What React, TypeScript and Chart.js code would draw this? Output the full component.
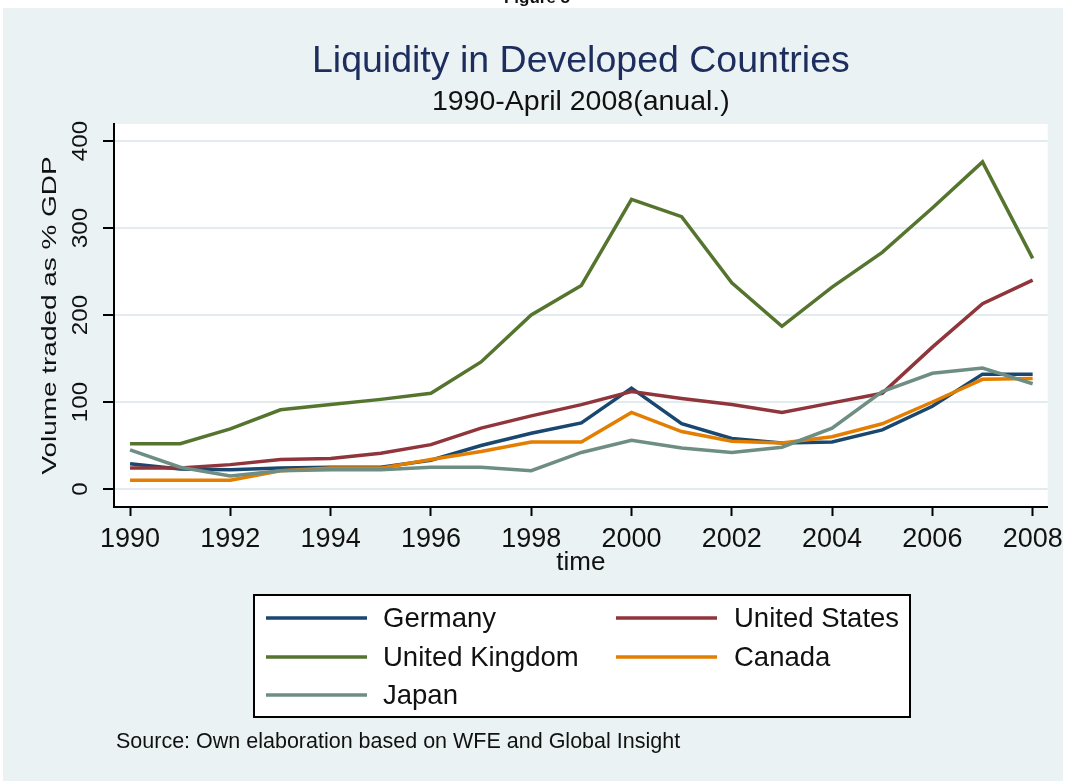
import React, { useEffect, useRef } from 'react';
import { Chart, registerables } from 'chart.js';

Chart.register(...registerables);

const years = [1990, 1991, 1992, 1993, 1994, 1995, 1996, 1997, 1998, 1999, 2000, 2001, 2002, 2003, 2004, 2005, 2006, 2007, 2008];
const germany = [29, 23, 22, 24, 25, 25, 33, 50, 64, 76, 116, 75, 58, 53, 54, 68, 95, 132, 132];
const unitedStates = [24, 24, 28, 34, 35, 41, 51, 70, 84, 97, 112, 104, 97, 88, 99, 110, 163, 213, 240];
const unitedKingdom = [52, 52, 69, 91, 97, 103, 110, 146, 200, 234, 333, 313, 237, 187, 232, 272, 323, 376, 265];
const canada = [10, 10, 10, 21, 24, 24, 34, 43, 54, 54, 88, 66, 55, 53, 60, 75, 100, 126, 127];
const japan = [45, 25, 15, 21, 22, 22, 25, 25, 21, 42, 56, 47, 42, 48, 70, 112, 133, 139, 121];

const seriesNames = ['Germany', 'United States', 'United Kingdom', 'Canada', 'Japan'];
const seriesValues = [germany, unitedStates, unitedKingdom, canada, japan];
const seriesColors = ['#1a476f', '#90353b', '#55752f', '#e37e00', '#6e8e84'];

const xTickLabels = ['1990', '1992', '1994', '1996', '1998', '2000', '2002', '2004', '2006', '2008'];
const yTickLabels = ['0', '100', '200', '300', '400'];

const figureLabel = 'Figure 5';
const titleText = 'Liquidity in Developed Countries';
const subtitleText = '1990-April 2008(anual.)';
const yTitleText = 'Volume traded as % GDP';
const xTitleText = 'time';
const sourceText = 'Source: Own elaboration based on WFE and Global Insight';

const FONT = '"Liberation Sans", Arial, Helvetica, sans-serif';
const BG = '#eaf2f3';
const GRID = '#e2ecee';
const TEXT = '#111111';

const decorPlugin = {
  id: 'stataDecor',
  beforeDraw(chart: any) {
    const ctx = chart.ctx;
    const ca = chart.chartArea;
    ctx.save();
    ctx.fillStyle = '#ffffff';
    ctx.fillRect(0, 0, chart.width, chart.height);
    ctx.fillStyle = BG;
    ctx.fillRect(3, 8, 1060, 773);
    ctx.fillStyle = '#ffffff';
    ctx.fillRect(ca.left, ca.top, ca.right - ca.left, ca.bottom - ca.top);
    ctx.fillStyle = TEXT;
    ctx.font = `bold 17px ${FONT}`;
    ctx.textAlign = 'center';
    ctx.textBaseline = 'alphabetic';
    ctx.fillText(figureLabel, 537, 3);
    ctx.restore();
  },
  afterDraw(chart: any) {
    const ctx = chart.ctx;
    const ca = chart.chartArea;
    const cx = (ca.left + ca.right) / 2;
    ctx.save();
    // titles
    ctx.textAlign = 'center';
    ctx.textBaseline = 'alphabetic';
    ctx.fillStyle = '#1c2d5e';
    ctx.font = `37.5px ${FONT}`;
    ctx.fillText(titleText, cx, 72);
    ctx.fillStyle = TEXT;
    ctx.font = `28.5px ${FONT}`;
    ctx.fillText(subtitleText, cx, 110);

    // y tick labels (vertical)
    const ys = chart.scales.y;
    ys.ticks.forEach((t: any, i: number) => {
      const py = ys.getPixelForValue(t.value);
      ctx.save();
      ctx.translate(87, py);
      ctx.rotate(-Math.PI / 2);
      ctx.scale(1.1, 1);
      ctx.font = `22px ${FONT}`;
      ctx.textAlign = 'center';
      ctx.fillStyle = TEXT;
      ctx.fillText(yTickLabels[i] ?? String(t.value), 0, 0);
      ctx.restore();
    });

    // y title
    ctx.save();
    ctx.translate(56, (ca.top + ca.bottom) / 2);
    ctx.rotate(-Math.PI / 2);
    ctx.scale(1.33, 1);
    ctx.font = `21px ${FONT}`;
    ctx.textAlign = 'center';
    ctx.fillStyle = TEXT;
    ctx.fillText(yTitleText, 0, 0);
    ctx.restore();

    // legend
    const bx = 254, by = 595, bw = 656, bh = 122;
    ctx.fillStyle = '#ffffff';
    ctx.fillRect(bx, by, bw, bh);
    ctx.strokeStyle = '#000000';
    ctx.lineWidth = 2;
    ctx.strokeRect(bx, by, bw, bh);
    const colLine = [266, 616];
    const colText = [383, 734];
    const rowY = [618, 657, 695];
    chart.data.datasets.forEach((ds: any, i: number) => {
      const col = i % 2;
      const row = Math.floor(i / 2);
      const y = rowY[row];
      ctx.strokeStyle = ds.borderColor;
      ctx.lineWidth = 3.5;
      ctx.beginPath();
      ctx.moveTo(colLine[col], y);
      ctx.lineTo(colLine[col] + 101, y);
      ctx.stroke();
      ctx.fillStyle = TEXT;
      ctx.font = `27.5px ${FONT}`;
      ctx.textAlign = 'left';
      ctx.textBaseline = 'middle';
      ctx.fillText(ds.label, colText[col], y + 1);
    });

    // source note
    ctx.textAlign = 'left';
    ctx.textBaseline = 'alphabetic';
    ctx.fillStyle = TEXT;
    ctx.font = `21.5px ${FONT}`;
    ctx.fillText(sourceText, 116, 748);
    ctx.restore();
  },
};

export default function App() {
  const canvasRef = useRef<HTMLCanvasElement | null>(null);

  useEffect(() => {
    if (!canvasRef.current) return;
    const datasets = seriesNames.map((name, i) => ({
      label: name,
      data: years.map((yr, k) => ({ x: yr, y: seriesValues[i][k] })),
      borderColor: seriesColors[i],
      backgroundColor: seriesColors[i],
      borderWidth: 3.5,
      pointRadius: 0,
      tension: 0,
      fill: false,
      order: seriesNames.length - i,
    }));
    const chart = new Chart(canvasRef.current, {
      type: 'line',
      data: { datasets },
      plugins: [decorPlugin],
      options: {
        animation: false,
        responsive: false,
        devicePixelRatio: 1,
        layout: { padding: { left: 103, right: 19, top: 124, bottom: 205 } },
        plugins: {
          legend: { display: false },
          title: { display: false },
          tooltip: { enabled: false },
        },
        scales: {
          x: {
            type: 'linear',
            min: 1989.68,
            max: 2008.3,
            afterFit: (s: any) => { s.height = 69; },
            grid: {
              drawOnChartArea: false,
              drawTicks: true,
              tickLength: 9,
              tickColor: '#000000',
              tickWidth: 2,
            },
            border: { display: true, color: '#000000', width: 2 },
            ticks: {
              stepSize: 2,
              includeBounds: false,
              autoSkip: false,
              maxRotation: 0,
              minRotation: 0,
              padding: 7,
              color: TEXT,
              font: { family: FONT, size: 27, lineHeight: 1.2 },
              callback: (v: any) => {
                const idx = xTickLabels.indexOf(String(v));
                return idx >= 0 ? xTickLabels[idx] : '';
              },
            },
            title: {
              display: true,
              text: xTitleText,
              color: TEXT,
              font: { family: FONT, size: 26, lineHeight: 1 },
              padding: { top: 0, bottom: 0 },
            },
          },
          y: {
            type: 'linear',
            min: -20.7,
            max: 419.5,
            afterFit: (s: any) => { s.width = 11; },
            grid: {
              color: GRID,
              lineWidth: 2,
              drawTicks: true,
              tickLength: 11,
              tickColor: '#000000',
              tickWidth: 2,
            },
            border: { display: true, color: '#000000', width: 2 },
            ticks: {
              stepSize: 100,
              includeBounds: false,
              display: false,
            },
          },
        },
      },
    });
    return () => chart.destroy();
  }, []);

  return (
    <div style={{ position: 'absolute', left: 0, top: 0, width: 1070, height: 781 }}>
      <canvas ref={canvasRef} width={1070} height={781} style={{ width: 1070, height: 781, display: 'block' }} />
    </div>
  );
}
